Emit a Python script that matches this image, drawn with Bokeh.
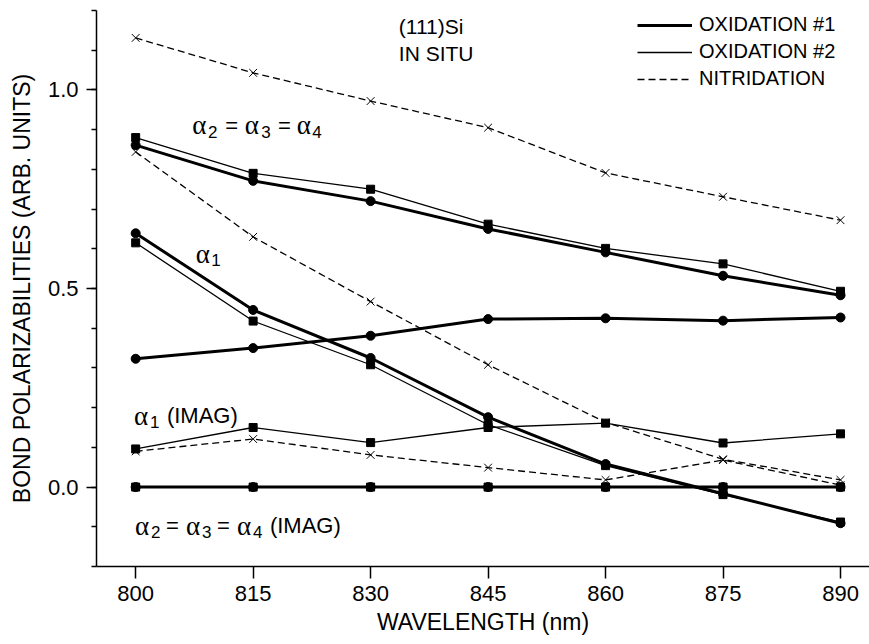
from bokeh.plotting import figure
from bokeh.models import (Range1d, SingleIntervalTicker, FixedTicker, Legend, LegendItem,
                          Label, PrintfTickFormatter)
from bokeh.embed import file_html
from bokeh.resources import INLINE

# ---- data ----
wavelength = [800, 815, 830, 845, 860, 875, 890]
x_ticks = [800, 815, 830, 845, 860, 875, 890]

# alpha2 = alpha3 = alpha4 (real)
ox1_a234 = [0.861, 0.771, 0.720, 0.650, 0.591, 0.532, 0.483]
ox2_a234 = [0.880, 0.790, 0.750, 0.662, 0.601, 0.562, 0.493]
nit_a234 = [1.131, 1.043, 0.972, 0.905, 0.791, 0.731, 0.672]

# alpha1 (real)
ox1_a1 = [0.639, 0.446, 0.325, 0.176, 0.058, -0.017, -0.091]
ox2_a1 = [0.615, 0.418, 0.308, 0.157, 0.054, -0.019, -0.088]
nit_a1 = [0.844, 0.630, 0.467, 0.308, 0.163, 0.070, 0.018]

# alpha1 (imag)
ox1_a1_imag = [0.323, 0.350, 0.381, 0.423, 0.425, 0.419, 0.427]
ox2_a1_imag = [0.096, 0.150, 0.112, 0.150, 0.161, 0.111, 0.134]
nit_a1_imag = [0.090, 0.121, 0.081, 0.049, 0.018, 0.068, 0.005]

# alpha2 = alpha3 = alpha4 (imag)
ox1_a234_imag = [0.0, 0.0, 0.0, 0.0, 0.0, 0.0, 0.0]
ox2_a234_imag = [0.0, 0.0, 0.0, 0.0, 0.0, 0.0, 0.0]
nit_a234_imag = [0.0, 0.0, 0.0, 0.0, 0.0, 0.0, 0.0]

series_names = ["OXIDATION #1", "OXIDATION #2", "NITRIDATION"]

FONT = "Liberation Sans"
GREEK = "Liberation Serif"

p = figure(width=869, height=644,
           x_range=Range1d(795.0, 893.7), y_range=Range1d(-0.2, 1.2),
           output_backend="svg", toolbar_location=None,
           min_border_left=96, min_border_right=0,
           min_border_top=10, min_border_bottom=78)
p.xgrid.visible = False
p.ygrid.visible = False
p.outline_line_color = None
p.background_fill_color = "white"
p.border_fill_color = "white"

# x axis
xa = p.xaxis[0]
xa.ticker = FixedTicker(ticks=x_ticks, minor_ticks=[])
xa.major_tick_out = 12
xa.major_tick_in = 0
xa.minor_tick_out = 0
xa.minor_tick_in = 0
xa.axis_line_width = 1.5
xa.major_tick_line_width = 1.5
xa.major_label_text_font = FONT
xa.major_label_text_font_size = "22px"
xa.major_label_text_color = "black"
xa.major_label_standoff = 7
xa.axis_label = "WAVELENGTH (nm)"
xa.axis_label_text_font = FONT
xa.axis_label_text_font_size = "23px"
xa.axis_label_text_font_style = "normal"
xa.axis_label_text_color = "black"
xa.axis_label_standoff = 5

# y axis
ya = p.yaxis[0]
ya.ticker = SingleIntervalTicker(interval=0.5, num_minor_ticks=5)
ya.formatter = PrintfTickFormatter(format="%.1f")
ya.major_tick_out = 10
ya.major_tick_in = 0
ya.minor_tick_out = 5
ya.minor_tick_in = 0
ya.axis_line_width = 1.5
ya.major_tick_line_width = 1.5
ya.minor_tick_line_width = 1.5
ya.major_label_text_font = FONT
ya.major_label_text_font_size = "22px"
ya.major_label_text_color = "black"
ya.major_label_standoff = 8
ya.axis_label = "BOND POLARIZABILITIES (ARB. UNITS)"
ya.axis_label_text_font = FONT
ya.axis_label_text_font_size = "23px"
ya.axis_label_text_font_style = "normal"
ya.axis_label_text_color = "black"
ya.axis_label_standoff = 10

styles = {
    "OXIDATION #1": dict(lw=3.0, dash="solid", marker="circle", size=9),
    "OXIDATION #2": dict(lw=1.3, dash="solid", marker="square", size=8),
    "NITRIDATION": dict(lw=1.3, dash="7 4", marker="x", size=11),
}


def draw(name, ys):
    st = styles[name]
    r = p.line(wavelength, ys, line_color="black", line_width=st["lw"], line_dash=st["dash"])
    if st["marker"] == "x":
        p.scatter(wavelength, ys, marker="x", size=st["size"], line_color="black", line_width=1.0)
    else:
        p.scatter(wavelength, ys, marker=st["marker"], size=st["size"],
                  fill_color="black", line_color="black", line_width=1.0)
    return r


groups = [
    (ox1_a234, ox2_a234, nit_a234),
    (ox1_a1, ox2_a1, nit_a1),
    (ox1_a1_imag, ox2_a1_imag, nit_a1_imag),
    (ox1_a234_imag, ox2_a234_imag, nit_a234_imag),
]
legend_renderers = {}
for g in groups:
    for name, ys in zip(series_names, g):
        r = draw(name, ys)
        legend_renderers.setdefault(name, r)

legend = Legend(items=[LegendItem(label=n, renderers=[legend_renderers[n]]) for n in series_names],
                location=(541, 476), orientation="vertical",
                glyph_width=55, glyph_height=20, label_height=20, label_standoff=7,
                spacing=4, padding=0, margin=0,
                border_line_color=None, background_fill_alpha=0,
                label_text_font=FONT, label_text_font_size="20px", label_text_color="black")
p.add_layout(legend, "center")

# plain annotations
for t, x, y in [("(111)Si", 833.6, 1.159), ("IN SITU", 833.6, 1.092)]:
    p.add_layout(Label(x=x, y=y, text=t, text_font=FONT, text_font_size="21px",
                       text_baseline="middle", text_align="left", text_color="black"))


# composite annotations with greek alpha and lowered subscripts
def compose(x, y, pieces):
    for text, dx, kind in pieces:
        if kind == "a":
            font, size, dy = GREEK, "27px", 0
        elif kind == "s":
            font, size, dy = FONT, "17px", -6.5
        else:
            font, size, dy = FONT, "22px", 0
        p.add_layout(Label(x=x, y=y, x_offset=dx, y_offset=dy, text=text,
                           text_font=font, text_font_size=size,
                           text_baseline="alphabetic", text_align="left",
                           text_color="black"))


compose(807.24, 0.911, [("α", 0, "a"), ("2", 15.6, "s"), ("=", 33, "t"),
                        ("α", 52.3, "a"), ("3", 69, "s"), ("=", 85.6, "t"),
                        ("α", 104.3, "a"), ("4", 120, "s")])
compose(807.66, 0.588, [("α", 0, "a"), ("1", 15.6, "s")])
compose(799.78, 0.179, [("α", 0, "a"), ("1", 16, "s"), ("(IMAG)", 33, "t")])
compose(799.9, -0.097, [("α", 0, "a"), ("2", 16, "s"), ("=", 31, "t"),
                        ("α", 51, "a"), ("3", 67, "s"), ("=", 82, "t"),
                        ("α", 102, "a"), ("4", 118, "s"), ("(IMAG)", 135, "t")])

open("out.html", "w").write(file_html(p, INLINE))
